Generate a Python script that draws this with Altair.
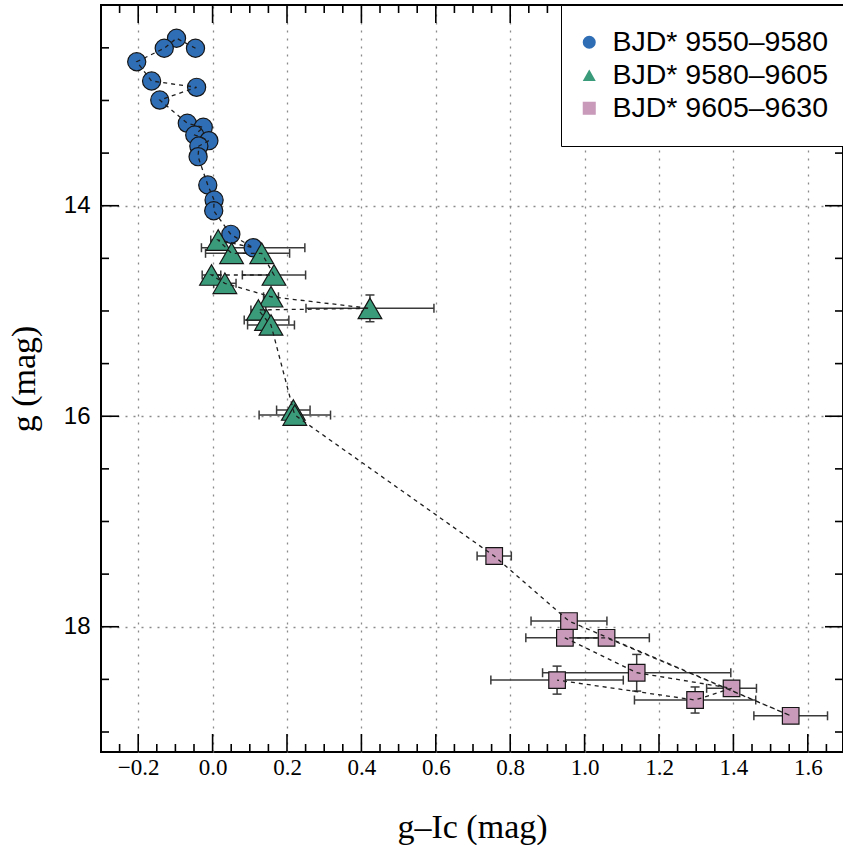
import altair as alt
import pandas as pd

# ---------------- data ----------------
series_names = ["BJD* 9550–9580", "BJD* 9580–9605", "BJD* 9605–9630"]
series_colors = ["#2F6DB5", "#3A9B7B", "#C99AB9"]
series_shapes = ["circle", "triangle-up", "square"]
series_sizes = [330, 560, 275]

# points listed in time order (the dashed line follows this order)
blue_x = [-0.046, -0.097, -0.130, -0.204, -0.164, -0.043, -0.142, -0.068, -0.025,
          -0.048, -0.010, -0.037, -0.039, -0.013, 0.004, 0.003, 0.049, 0.109]
blue_y = [12.504, 12.409, 12.504, 12.632, 12.815, 12.875, 12.996, 13.217, 13.255,
          13.328, 13.382, 13.433, 13.534, 13.803, 13.946, 14.048, 14.272, 14.399]
blue_xerr = [0, 0, 0, 0, 0, 0, 0, 0, 0, 0, 0, 0, 0, 0, 0, 0, 0, 0.139]
blue_yerr = [0] * 18

green_x = [0.015, 0.051, 0.132, 0.165, -0.003, 0.033, 0.157, 0.423, 0.123,
           0.145, 0.157, 0.217, 0.221]
green_y = [14.326, 14.452, 14.452, 14.658, 14.658, 14.737, 14.865, 14.975, 14.990,
           15.086, 15.133, 15.941, 15.989]
green_xerr = [0.02, 0.07, 0.075, 0.085, 0.025, 0.03, 0.02, 0.172, 0.02,
              0.06, 0.063, 0.045, 0.096]
green_yerr = [0, 0, 0, 0, 0, 0, 0, 0.127, 0, 0, 0, 0, 0]

pink_x = [0.757, 0.958, 1.554, 1.059, 0.947, 1.140, 1.395, 1.297, 0.926]
pink_y = [17.328, 17.946, 18.846, 18.105, 18.105, 18.437, 18.585, 18.696, 18.507]
pink_xerr = [0.046, 0.102, 0.099, 0.115, 0.105, 0.253, 0.067, 0.163, 0.178]
pink_yerr = [0, 0, 0, 0, 0, 0.174, 0, 0.124, 0.133]

# axis ticks / labels
x_label_values = [-0.2, 0.0, 0.2, 0.4, 0.6, 0.8, 1.0, 1.2, 1.4, 1.6]
x_minor_values = [round(-0.25 + 0.05 * i, 2) for i in range(39)]
y_label_values = [14, 16, 18]
y_minor_values = [12.5, 13.0, 13.5, 14.5, 15.0, 15.5, 16.5, 17.0, 17.5, 18.5, 19.0]

X_DOMAIN = [-0.3, 1.6946]
Y_DOMAIN = [12.093, 19.19]
W, H = 742, 747

# ---------------- tables ----------------
rows = []
t = 0
for k, (xs_, ys_, xe, ye) in enumerate([
    (blue_x, blue_y, blue_xerr, blue_yerr),
    (green_x, green_y, green_xerr, green_yerr),
    (pink_x, pink_y, pink_xerr, pink_yerr),
]):
    for i in range(len(xs_)):
        rows.append(dict(series=series_names[k], msize=series_sizes[k],
                         x=xs_[i], y=ys_[i], xerr=xe[i], yerr=ye[i], t=t))
        t += 1
df = pd.DataFrame(rows)
df["xlo"] = df.x - df.xerr
df["xhi"] = df.x + df.xerr
df["ylo"] = df.y - df.yerr
df["yhi"] = df.y + df.yerr

dfx = df[df.xerr > 0]
dfy = df[df.yerr > 0]
xcaps = pd.DataFrame({"cx": list(dfx.xlo) + list(dfx.xhi), "y": list(dfx.y) * 2})
ycaps = pd.DataFrame({"x": list(dfy.x) * 2, "cy": list(dfy.ylo) + list(dfy.yhi)})

major_x = [v for v in x_label_values]
minor_x = [v for v in x_minor_values if all(abs(v - m) > 1e-6 for m in major_x)]

xs = alt.Scale(domain=X_DOMAIN, nice=False, zero=False)
ys = alt.Scale(domain=Y_DOMAIN, reverse=True, nice=False, zero=False)

grid_kw = dict(grid=True, gridDash=[2, 6], gridColor="#8a8a8a", gridWidth=1.3,
               ticks=False, domain=False)
x_axis = alt.Axis(values=x_label_values, format=".1f", labelFont="Liberation Sans Narrow",
                  labelFontSize=23, labelPadding=4, labelColor="black", labelFlush=False,
                  title="g–Ic (mag)", titleFont="Liberation Serif", titleFontSize=34,
                  titleFontWeight="normal", titleColor="black", titleY=85,
                  titleBaseline="alphabetic", **grid_kw)
y_axis = alt.Axis(values=y_label_values, format="d", labelFont="Liberation Sans",
                  labelFontSize=24, labelPadding=11, labelColor="black",
                  title="g (mag)", titleFont="Liberation Serif", titleFontSize=34,
                  titleFontWeight="normal", titleColor="black", titleX=-67,
                  titleY=H / 2, titleAngle=270, titleAlign="center",
                  titleBaseline="alphabetic", **grid_kw)

X = lambda f: alt.X(f, type="quantitative", scale=xs, axis=x_axis)
Y = lambda f: alt.Y(f, type="quantitative", scale=ys, axis=y_axis)

ecol = "#3a3a3a"
xerr_rules = alt.Chart(dfx).mark_rule(color=ecol, strokeWidth=1.5).encode(
    x=X("xlo"), x2="xhi", y=Y("y"))
xerr_caps = alt.Chart(xcaps).mark_tick(color=ecol, orient="vertical", size=9,
                                       thickness=1.5, opacity=1).encode(x=X("cx"), y=Y("y"))
yerr_rules = alt.Chart(dfy).mark_rule(color=ecol, strokeWidth=1.5).encode(
    x=X("x"), y=Y("ylo"), y2="yhi")
yerr_caps = alt.Chart(ycaps).mark_tick(color=ecol, orient="horizontal", size=9,
                                       thickness=1.5, opacity=1).encode(x=X("x"), y=Y("cy"))

leg = alt.Legend(title=None, orient="none", legendX=460, legendY=0, direction="vertical",
                 strokeColor="black", fillColor="white", padding=23, cornerRadius=0,
                 labelFont="Liberation Sans", labelFontSize=28.5, labelColor="black",
                 labelOffset=9, symbolOffset=-9, rowPadding=4, symbolSize=170,
                 symbolStrokeWidth=0, symbolOpacity=1, labelLimit=400)

points = alt.Chart(df).mark_point(filled=True, opacity=1, stroke="#151515",
                                  strokeWidth=1.2).encode(
    x=X("x"), y=Y("y"),
    color=alt.Color("series:N", scale=alt.Scale(domain=series_names, range=series_colors), legend=leg),
    shape=alt.Shape("series:N", scale=alt.Scale(domain=series_names, range=series_shapes), legend=leg),
    size=alt.Size("msize:Q", scale=None, legend=None),
)

path = alt.Chart(df).mark_line(color="#1e1e1e", strokeWidth=1.3, strokeDash=[4, 4]).encode(
    x=X("x"), y=Y("y"), order="t:Q")

# inward axis ticks (frame ticks on all four sides)
tick_style = dict(color="black", strokeWidth=1.6)
mxd = pd.DataFrame({"v": major_x})
nxd = pd.DataFrame({"v": minor_x})
myd = pd.DataFrame({"v": y_label_values})
nyd = pd.DataFrame({"v": y_minor_values})

def xticks(d, length):
    b = alt.Chart(d).mark_rule(**tick_style).encode(
        x=alt.X("v:Q", scale=xs, axis=x_axis), y=alt.value(H), y2=alt.value(H - length))
    tp = alt.Chart(d).mark_rule(**tick_style).encode(
        x=alt.X("v:Q", scale=xs, axis=x_axis), y=alt.value(0), y2=alt.value(length))
    return [b, tp]

def yticks(d, length):
    l = alt.Chart(d).mark_rule(**tick_style).encode(
        y=alt.Y("v:Q", scale=ys, axis=y_axis), x=alt.value(0), x2=alt.value(length))
    r = alt.Chart(d).mark_rule(**tick_style).encode(
        y=alt.Y("v:Q", scale=ys, axis=y_axis), x=alt.value(W), x2=alt.value(W - length))
    return [l, r]

tick_layers = xticks(mxd, 18) + xticks(nxd, 8) + yticks(myd, 18) + yticks(nyd, 8)

chart = alt.layer(
    xerr_rules, xerr_caps, yerr_rules, yerr_caps, points, path, *tick_layers
).properties(
    width=W, height=H,
    autosize=alt.AutoSizeParams(type="none"),
    padding={"left": 101, "top": 5, "right": 0, "bottom": 93},
    background="white",
).configure_view(stroke="black", strokeWidth=2)

chart.save("out.html", embed_options={"renderer": "svg", "actions": False})
